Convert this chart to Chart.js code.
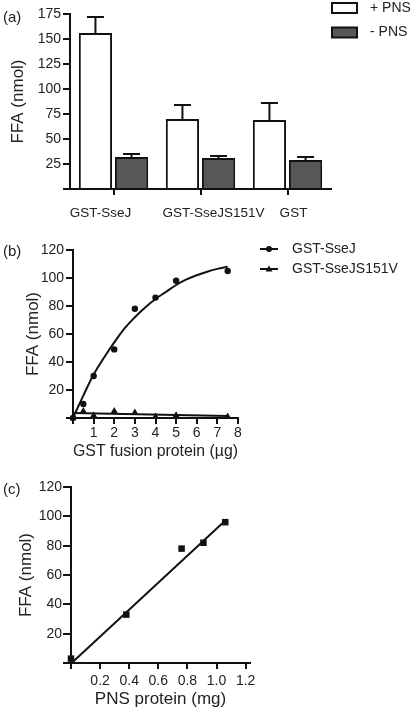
<!DOCTYPE html>
<html>
<head>
<meta charset="utf-8">
<script src="https://cdn.jsdelivr.net/npm/chart.js@4.4.1/dist/chart.umd.min.js"></script>
<style>
  html, body { margin: 0; padding: 0; background: #fff; }
  body { width: 413px; height: 713px; position: relative; overflow: hidden; font-family: "Liberation Sans", Arial, sans-serif; }
  canvas { position: absolute; left: 0; }
  .tag { position: absolute; left: 3px; font-size: 15px; line-height: 17px; color: #222; }
</style>
</head>
<body>
<canvas id="chartA" width="413" height="228" style="top:0"></canvas>
<canvas id="chartB" width="413" height="240" style="top:230px"></canvas>
<canvas id="chartC" width="413" height="243" style="top:470px"></canvas>
<div class="tag" style="top:8px">(a)</div>
<div class="tag" style="top:242px">(b)</div>
<div class="tag" style="top:480px">(c)</div>

<script>
// (a) FFA release with and without PNS
const proteins = ['GST-SseJ', 'GST-SseJS151V', 'GST'];
const plusPns = [156, 70, 69];
const plusPnsSd = [16, 14, 17];
const minusPns = [32, 31, 29];
const minusPnsSd = [3, 2, 3];
const ticksA = [25, 50, 75, 100, 125, 150, 175];

// (b) dose response, GST fusion protein
const dose = [0, 0.5, 1, 2, 3, 4, 5, 7.5];
const sseJ = [0, 10, 30, 49, 78, 86, 98, 105];
const sseJS151V = [0, 5, 2, 5, 4, 1, 2, 1];
// fitted curves
const sseJFitDose = [0, 0.5, 1, 1.5, 2, 2.5, 3, 3.5, 4, 4.5, 5, 5.5, 6, 6.5, 7, 7.5];
const sseJFit = [0, 16, 31, 43, 54, 64, 72, 79, 85, 90, 95, 99, 102, 104.5, 106.5, 108];
const s151vFitDose = [0, 7.5];
const s151vFit = [3.5, 1.5];

// (c) PNS protein
const pnsProtein = [0, 0.38, 0.76, 0.91, 1.06];
const pnsFfa = [3, 33, 78, 82, 96];
const pnsFitX = [0.01, 1.07];
const pnsFitY = [0.5, 98];
const ticksC = [0, 0.2, 0.4, 0.6, 0.8, 1.0, 1.2];

const INK = '#111';
const TEXT = '#222';
const FONT = "'Liberation Sans', Arial, sans-serif";
const TICK_SIZE = 14;
const TITLE_SIZE = 17;

function points(xs, ys) {
  return xs.map((x, i) => ({ x: x, y: ys[i] }));
}

// draws the upward SD bars on top of the bars
const errorBars = {
  id: 'errorBars',
  afterDatasetsDraw(chart, args, opts) {
    const ctx = chart.ctx;
    const yScale = chart.scales.y;
    chart.data.datasets.forEach((ds, i) => {
      if (!ds.errors) return;
      chart.getDatasetMeta(i).data.forEach((bar, j) => {
        const top = yScale.getPixelForValue(ds.data[j] + ds.errors[j]);
        ctx.save();
        ctx.strokeStyle = INK;
        ctx.lineWidth = 2;
        ctx.beginPath();
        ctx.moveTo(bar.x, bar.y);
        ctx.lineTo(bar.x, top);
        ctx.moveTo(bar.x - opts.cap / 2, top);
        ctx.lineTo(bar.x + opts.cap / 2, top);
        ctx.stroke();
        ctx.restore();
      });
    });
  }
};

// category names under the bars; the original figure nudges them off-centre
const categoryLabels = {
  id: 'categoryLabels',
  afterDraw(chart, args, opts) {
    const scale = chart.scales.x;
    const ctx = chart.ctx;
    ctx.save();
    ctx.font = opts.size + 'px ' + FONT;
    ctx.fillStyle = TEXT;
    ctx.textAlign = 'center';
    ctx.textBaseline = 'alphabetic';
    chart.data.labels.forEach((label, i) => {
      ctx.fillText(label, scale.getPixelForTick(i) + opts.nudge[i], opts.baseline);
    });
    ctx.restore();
  }
};

// legend placed to the right of the plot, like the original figure
const sideLegend = {
  id: 'sideLegend',
  afterDraw(chart, args, opts) {
    if (!opts.items) return;
    const ctx = chart.ctx;
    ctx.save();
    ctx.font = opts.size + 'px ' + FONT;
    ctx.textBaseline = 'middle';
    opts.items.forEach((idx, k) => {
      const ds = chart.data.datasets[idx];
      const y = opts.y + k * opts.gap;
      ctx.strokeStyle = INK;
      ctx.fillStyle = ds.backgroundColor;
      ctx.lineWidth = 2;
      if (opts.kind === 'box') {
        ctx.fillRect(opts.x, y - 5, 25, 10);
        ctx.strokeRect(opts.x, y - 5, 25, 10);
      } else {
        ctx.beginPath();
        ctx.moveTo(opts.x, y);
        ctx.lineTo(opts.x + 18, y);
        ctx.stroke();
        const cx = opts.x + 9;
        ctx.fillStyle = INK;
        ctx.beginPath();
        if (ds.pointStyle === 'triangle') {
          ctx.moveTo(cx, y - 3.5);
          ctx.lineTo(cx + 3.5, y + 2.5);
          ctx.lineTo(cx - 3.5, y + 2.5);
          ctx.closePath();
        } else {
          ctx.arc(cx, y, 3, 0, Math.PI * 2);
        }
        ctx.fill();
      }
      ctx.fillStyle = TEXT;
      ctx.fillText(ds.label, opts.x + opts.textOffset, y);
    });
    ctx.restore();
  }
};

function axisBase() {
  return {
    border: { display: true, color: INK, width: 2 },
    grid: { drawOnChartArea: false, color: INK, lineWidth: 2, tickLength: 7 },
    ticks: { color: TEXT, font: { family: FONT, size: TICK_SIZE } }
  };
}

function axisTitle(text, padding) {
  return { display: true, text: text, color: TEXT, font: { family: FONT, size: TITLE_SIZE }, padding: padding };
}

function fixSize(prop, v) {
  return scale => { scale[prop] = v; };
}

// ---------- (a) ----------
const yA = axisBase();
yA.min = 0;
yA.max = 175;
yA.ticks.stepSize = 25;
yA.ticks.padding = 2;
yA.ticks.callback = v => (ticksA.includes(v) ? v : '');
yA.title = axisTitle('FFA (nmol)', { top: 8, bottom: 0 });
yA.afterFit = fixSize('width', 70);

const xA = axisBase();
xA.grid.offset = false;
xA.grid.tickLength = 6;
xA.ticks.display = false;
xA.afterFit = fixSize('height', 39);

new Chart(document.getElementById('chartA'), {
  type: 'bar',
  data: {
    labels: proteins,
    datasets: [
      { label: '+ PNS', data: plusPns, errors: plusPnsSd, backgroundColor: '#ffffff', borderColor: INK, borderWidth: 2 },
      { label: '- PNS', data: minusPns, errors: minusPnsSd, backgroundColor: '#575757', borderColor: INK, borderWidth: 2 }
    ]
  },
  options: {
    responsive: false,
    animation: false,
    events: [],
    categoryPercentage: 0.83,
    barPercentage: 0.92,
    layout: { padding: { top: 14, right: 82, bottom: 0, left: 0 } },
    scales: { x: xA, y: yA },
    plugins: {
      legend: { display: false },
      tooltip: { enabled: false },
      errorBars: { cap: 17 },
      categoryLabels: { size: 13.5, baseline: 216.5, nudge: [-13, 13, 6] },
      sideLegend: { items: [0, 1], kind: 'box', x: 332, y: 8, gap: 24.5, textOffset: 38, size: 14 }
    }
  },
  plugins: [errorBars, categoryLabels, sideLegend]
});

// ---------- (b) ----------
const yB = axisBase();
yB.min = 0;
yB.max = 120;
yB.ticks.stepSize = 20;
yB.ticks.padding = 2;
yB.ticks.callback = v => (v === 0 ? '' : v);
yB.title = axisTitle('FFA (nmol)', { top: 23, bottom: 0 });
yB.afterFit = fixSize('width', 73);

const xB = axisBase();
xB.type = 'linear';
xB.min = 0;
xB.max = 8;
xB.grid.tickLength = 6;
xB.ticks.stepSize = 1;
xB.ticks.padding = 1;
xB.ticks.callback = v => (v === 0 ? '' : v);
xB.title = axisTitle('GST fusion protein (\u00b5g)', { top: 0, bottom: 8 });
xB.afterFit = fixSize('height', 52);

new Chart(document.getElementById('chartB'), {
  type: 'scatter',
  data: {
    datasets: [
      { label: 'GST-SseJ', data: points(dose, sseJ), pointStyle: 'circle', pointRadius: 3.2, backgroundColor: INK, borderColor: INK, borderWidth: 0, clip: false },
      { label: 'GST-SseJS151V', data: points(dose, sseJS151V), pointStyle: 'triangle', pointRadius: 4, backgroundColor: INK, borderColor: INK, borderWidth: 0, clip: false },
      { label: 'fit SseJ', data: points(sseJFitDose, sseJFit), showLine: true, pointRadius: 0, borderColor: INK, borderWidth: 2, tension: 0.4, clip: false },
      { label: 'fit S151V', data: points(s151vFitDose, s151vFit), showLine: true, pointRadius: 0, borderColor: INK, borderWidth: 2, clip: false }
    ]
  },
  options: {
    responsive: false,
    animation: false,
    events: [],
    layout: { padding: { top: 20, right: 175, bottom: 0, left: 0 } },
    scales: { x: xB, y: yB },
    plugins: {
      legend: { display: false },
      tooltip: { enabled: false },
      sideLegend: { items: [0, 1], kind: 'line', x: 260, y: 19, gap: 20, textOffset: 32, size: 14 }
    }
  },
  plugins: [sideLegend]
});

// ---------- (c) ----------
const yC = axisBase();
yC.min = 0;
yC.max = 120;
yC.grid.tickLength = 8;
yC.ticks.stepSize = 20;
yC.ticks.padding = 1;
yC.ticks.callback = v => (v === 0 ? '' : v);
yC.title = axisTitle('FFA (nmol)', { top: 16, bottom: 0 });
yC.afterFit = fixSize('width', 71);

const xC = axisBase();
xC.type = 'linear';
xC.min = 0;
xC.max = 1.23;
xC.grid.tickLength = 6;
xC.ticks.padding = 4;
xC.ticks.callback = v => (v === 0 ? '' : v.toFixed(1));
xC.afterBuildTicks = scale => {
  scale.ticks = ticksC.map(v => ({ value: v }));
};
xC.title = axisTitle('PNS protein (mg)', { top: 0, bottom: 3 });
xC.afterFit = fixSize('height', 50);

new Chart(document.getElementById('chartC'), {
  type: 'scatter',
  data: {
    datasets: [
      { label: 'PNS', data: points(pnsProtein, pnsFfa), pointStyle: 'rect', pointRadius: 4.6, backgroundColor: INK, borderColor: INK, borderWidth: 0, clip: false },
      { label: 'fit', data: points(pnsFitX, pnsFitY), showLine: true, pointRadius: 0, borderColor: INK, borderWidth: 2, clip: false }
    ]
  },
  options: {
    responsive: false,
    animation: false,
    events: [],
    layout: { padding: { top: 17, right: 163, bottom: 0, left: 0 } },
    scales: { x: xC, y: yC },
    plugins: { legend: { display: false }, tooltip: { enabled: false } }
  }
});
</script>
</body>
</html>
